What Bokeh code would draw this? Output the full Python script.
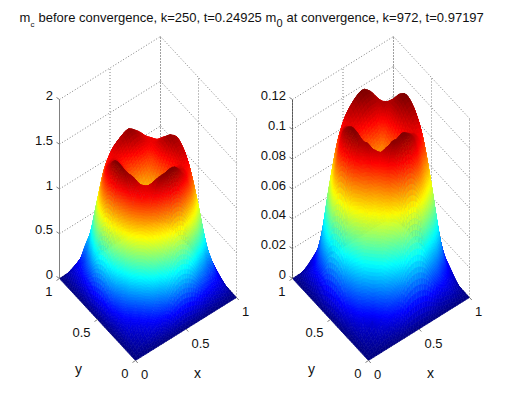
import numpy as np
from bokeh.plotting import figure
from bokeh.models import ColumnDataSource
from bokeh.core.properties import value
from bokeh.embed import file_html
from bokeh.resources import INLINE

# Heights, one table per quarter of the unit square.
# Row = distance from the centre along x (0.05 steps), column = along y.
left_front = [
 [1.12,1.12,1.17,1.28,1.38,1.50,1.60,1.40,.95,.45,0],
 [1.12,1.14,1.20,1.28,1.38,1.50,1.58,1.37,.92,.43,0],
 [1.17,1.20,1.22,1.30,1.39,1.52,1.55,1.25,.82,.38,0],
 [1.28,1.28,1.30,1.34,1.43,1.49,1.45,1.11,.68,.30,0],
 [1.38,1.38,1.42,1.44,1.46,1.42,1.28,.92,.48,.21,0],
 [1.50,1.51,1.53,1.52,1.43,1.33,1.03,.65,.33,.15,0],
 [1.60,1.58,1.53,1.42,1.28,1.03,.70,.38,.20,.12,0],
 [1.40,1.37,1.25,1.11,.92,.65,.38,.21,.14,.09,0],
 [.95,.92,.82,.68,.48,.33,.20,.14,.09,.06,0],
 [.45,.43,.38,.30,.21,.15,.12,.09,.06,.04,0],
 [0,0,0,0,0,0,0,0,0,0,0],
]
left_back = [
 [1.12,1.20,1.34,1.48,1.56,1.55,1.45,1.20,.85,.42,0],
 [1.20,1.25,1.35,1.48,1.52,1.50,1.40,1.16,.82,.40,0],
 [1.34,1.35,1.40,1.44,1.46,1.44,1.32,1.06,.72,.35,0],
 [1.48,1.48,1.44,1.43,1.40,1.34,1.20,.92,.58,.27,0],
 [1.56,1.50,1.44,1.38,1.34,1.25,1.02,.74,.44,.20,0],
 [1.53,1.46,1.42,1.34,1.25,1.10,.85,.55,.30,.14,0],
 [1.45,1.40,1.32,1.20,1.02,.85,.62,.36,.19,.11,0],
 [1.20,1.16,1.06,.92,.74,.55,.36,.21,.14,.09,0],
 [.85,.82,.72,.58,.44,.30,.19,.14,.09,.06,0],
 [.42,.40,.35,.27,.20,.14,.11,.09,.06,.04,0],
 [0,0,0,0,0,0,0,0,0,0,0],
]
left_side = [
 [1.12,1.20,1.34,1.48,1.56,1.55,1.45,1.20,.85,.42,0],
 [1.12,1.15,1.30,1.45,1.54,1.53,1.42,1.17,.82,.40,0],
 [1.17,1.20,1.28,1.40,1.50,1.50,1.36,1.08,.73,.35,0],
 [1.28,1.30,1.34,1.38,1.46,1.46,1.26,.95,.60,.28,0],
 [1.38,1.40,1.43,1.44,1.42,1.38,1.12,.80,.48,.23,0],
 [1.50,1.50,1.48,1.46,1.38,1.25,.98,.66,.37,.19,0],
 [1.60,1.58,1.50,1.40,1.22,1.00,.78,.50,.30,.16,0],
 [1.40,1.36,1.26,1.10,.92,.70,.50,.42,.24,.13,0],
 [.95,.92,.84,.70,.52,.40,.30,.24,.18,.10,0],
 [.45,.43,.39,.32,.25,.20,.16,.13,.10,.07,0],
 [0,0,0,0,0,0,0,0,0,0,0],
]
# right surface, in thousandths
right_front = [
 [80,81,88,96,106,116,119,105,72,34,0],
 [81,82,90,97,105,114,117,102,70,33,0],
 [88,90,94,100,106,114,117,94,64,30,0],
 [96,97,100,104,108,112,104,78,52,24,0],
 [106,105,109,110,110,100,82,64,40,16,0],
 [116,115,114,114,101,80,68,52,28,10,0],
 [119,117,112,98,82,68,52,32,14,7,0],
 [105,102,94,78,64,52,32,12,8,5,0],
 [72,70,64,52,40,28,14,8,5,3,0],
 [34,33,30,24,16,10,7,5,3,2,0],
 [0,0,0,0,0,0,0,0,0,0,0],
]
right_back = [
 [80,90,102,113,118,119,110,90,64,30,0],
 [90,92,104,113,117,117,108,87,62,28,0],
 [102,104,113,113,113,112,101,80,54,25,0],
 [113,113,113,110,108,104,90,70,44,20,0],
 [118,117,113,108,104,94,78,56,33,15,0],
 [119,117,112,104,94,80,64,42,22,10,0],
 [110,108,101,90,78,64,48,27,14,8,0],
 [90,87,80,70,56,42,27,14,9,6,0],
 [64,62,54,44,33,22,14,9,6,4,0],
 [30,28,25,20,15,10,8,6,4,2,0],
 [0,0,0,0,0,0,0,0,0,0,0],
]
right_side = [
 [80,90,102,113,118,119,110,90,64,30,0],
 [81,88,100,111,116,117,108,88,62,29,0],
 [88,92,98,108,113,114,103,82,56,26,0],
 [96,98,102,106,110,110,96,72,46,22,0],
 [106,106,108,108,106,103,86,60,38,18,0],
 [116,114,112,110,103,92,74,50,28,14,0],
 [119,117,112,100,86,74,58,36,20,12,0],
 [105,102,94,80,66,52,36,24,14,9,0],
 [72,70,64,52,40,30,20,14,10,6,0],
 [34,33,30,24,18,14,12,9,6,4,0],
 [0,0,0,0,0,0,0,0,0,0,0],
]

z_ticks_left = [0, 0.5, 1, 1.5, 2]
z_labels_left = ["0", "0.5", "1", "1.5", "2"]
z_ticks_right = [0, 0.02, 0.04, 0.06, 0.08, 0.1, 0.12]
z_labels_right = ["0", "0.02", "0.04", "0.06", "0.08", "0.1", "0.12"]
xy_ticks = [0, 0.5, 1]
xy_labels = ["0", "0.5", "1"]


def tile(front, back, side, unit=1.0):
    A, B, C = np.array(front, float), np.array(back, float), np.array(side, float)
    Z = np.zeros((21, 21))
    for i in range(21):        # x index
        for j in range(21):    # y index
            a, b = abs(i - 10), abs(j - 10)
            if i <= 10 and j <= 10:
                Z[i, j] = A[a, b]
            elif i >= 10 and j >= 10:
                Z[i, j] = B[a, b]
            elif i < 10:
                Z[i, j] = C[a, b]
            else:
                Z[i, j] = C[b, a]
    return Z * unit


Z_LEFT = tile(left_front, left_back, left_side)
Z_RIGHT = tile(right_front, right_back, right_side, 0.001)

FONT = value("Liberation Sans")
p = figure(width=490, height=383, x_range=(0, 490), y_range=(383, 0),
           output_backend="svg", toolbar_location=None, min_border=0,
           outline_line_color=None, background_fill_color="white")
p.axis.visible = False
p.grid.visible = False


def jet(t):
    r = np.interp(t, [0, 0.375, 0.625, 0.875, 1], [0, 0, 1, 1, 0.5])
    g = np.interp(t, [0, 0.125, 0.375, 0.625, 0.875, 1], [0, 0, 1, 1, 0, 0])
    b = np.interp(t, [0, 0.125, 0.375, 0.625, 1], [0.5, 1, 1, 0, 0])
    return "#%02x%02x%02x" % (int(r*255), int(g*255), int(b*255))


def smooth(Z, fx, fy):
    """Surface shading: Catmull-Rom evaluation of the table at fractional indices."""
    n = Z.shape[0] - 1
    i = min(int(fx), n - 1); j = min(int(fy), n - 1)
    s, t = fx - i, fy - j
    def w(u):
        return np.array([(-u + 2*u*u - u**3)/2, (2 - 5*u*u + 3*u**3)/2,
                         (u + 4*u*u - 3*u**3)/2, (-u*u + u**3)/2])
    wi, wj = w(s), w(t)
    val = 0.0
    for a in range(4):
        for b in range(4):
            val += wi[a]*wj[b]*Z[min(max(i+a-1, 0), n), min(max(j+b-1, 0), n)]
    return max(val, 0.0)


def panel(Z, zlim, zt, zl, ox, zaxis_dotted):
    ex = np.array([101.0, -63.0]); ey = np.array([-76.0, -82.0])
    O = np.array([ox, 360.0]); k = 179.0 / zlim
    def pr(x, y, z):
        return O[0] + ex[0]*x + ey[0]*y, O[1] + ex[1]*x + ey[1]*y - k*z
    gx0, gy0, gx1, gy1 = [], [], [], []
    def seg(a, b):
        pa, pb = pr(*a), pr(*b)
        gx0.append(pa[0]); gy0.append(pa[1]); gx1.append(pb[0]); gy1.append(pb[1])
    for z in zt:
        seg((0, 1, z), (1, 1, z)); seg((1, 1, z), (1, 0, z))
    for t in xy_ticks:
        seg((t, 1, 0), (t, 1, zlim)); seg((1, t, 0), (1, t, zlim))
        seg((t, 0, 0), (t, 1, 0)); seg((0, t, 0), (1, t, 0))
    p.segment(gx0, gy0, gx1, gy1, line_color="#808080", line_dash="1 2", line_width=1)
    a, b = pr(0, 1, 0), pr(0, 1, zlim)
    p.line([a[0], b[0]], [a[1], b[1]], line_color="#808080", line_width=1)
    if zaxis_dotted:
        p.line([a[0], b[0]], [a[1], b[1]], line_color="#303030", line_width=1, line_dash="1 2")
    # surface, far cells first; steep cells get a finer shading mesh
    n = Z.shape[0] - 1; vmax = Z.max()
    xs, ys, cs = [], [], []
    for i in range(n-1, -1, -1):
        for j in range(n-1, -1, -1):
            di = max(abs(Z[i+1, j]-Z[i, j]), abs(Z[i+1, j+1]-Z[i, j+1])) / vmax
            dj = max(abs(Z[i, j+1]-Z[i, j]), abs(Z[i+1, j+1]-Z[i+1, j])) / vmax
            si_n = int(np.clip(np.ceil(di/0.02), 2, 10))
            sj_n = int(np.clip(np.ceil(dj/0.02), 2, 10))
            for si in range(si_n-1, -1, -1):
                for sj in range(sj_n-1, -1, -1):
                    qx, qy, qz = [], [], []
                    for ci, cj in [(si, sj), (si+1, sj), (si+1, sj+1), (si, sj+1)]:
                        fx, fy = i + ci/si_n, j + cj/sj_n
                        zz = smooth(Z, fx, fy)
                        sx, sy = pr(fx/n, fy/n, zz)
                        qx.append(sx); qy.append(sy); qz.append(zz)
                    xs.append(qx); ys.append(qy); cs.append(jet(min(np.mean(qz)/vmax, 1)))
    src = ColumnDataSource(dict(xs=xs, ys=ys, c=cs))
    p.patches("xs", "ys", source=src, fill_color="c", line_color="c", line_width=0.6)
    tx0, ty0, tx1, ty1 = [], [], [], []
    def tick(pt, dx, dy):
        tx0.append(pt[0]); ty0.append(pt[1]); tx1.append(pt[0]+dx); ty1.append(pt[1]+dy)
    lx, ly, lt, la = [], [], [], []
    for z, s in zip(zt, zl):
        q = pr(0, 1, z); tick(q, -3, -2)
        lx.append(q[0]-6.5); ly.append(q[1]-4); lt.append(s); la.append("right")
    for t, s in zip(xy_ticks, xy_labels):
        q = pr(0, t, 0); tick(q, -3, 2)
        lx.append(q[0]-7); ly.append(q[1]+13); lt.append(s); la.append("right")
        q = pr(t, 0, 0); tick(q, 2.3, 2.5)
        lx.append(q[0]+5.5); ly.append(q[1]+14); lt.append(s); la.append("left")
    p.segment(tx0, ty0, tx1, ty1, line_color="#808080", line_width=1)
    src2 = ColumnDataSource(dict(x=lx, y=ly, t=lt, a=la))
    p.text("x", "y", text="t", source=src2, text_align="a", text_baseline="middle",
           text_font=FONT, text_font_size="13px", text_color="#111111")
    c = pr(0, 0, 0)
    p.text([c[0]-57, c[0]+62], [c[1]+8, c[1]+12], text=["y", "x"], text_align="center",
           text_baseline="middle", text_font=FONT, text_font_size="14px", text_color="#111111")


panel(Z_LEFT, 2.0, z_ticks_left, z_labels_left, 135.0, False)
panel(Z_RIGHT, 0.12, z_ticks_right, z_labels_right, 368.0, True)


def title(x, y, s, size="13px"):
    p.text([x], [y], text=[s], text_align="left", text_baseline="middle",
           text_font=FONT, text_font_size=size, text_color="#111111")


title(19, 17, "m")
title(30, 24, "c", "8px")
title(38, 17, "before convergence, k=250, t=0.24925")
title(265, 17, "m")
title(276, 22, "0", "11px")
title(286, 17, "at convergence, k=972, t=0.97197")

open("out.html", "w").write(file_html(p, INLINE))
